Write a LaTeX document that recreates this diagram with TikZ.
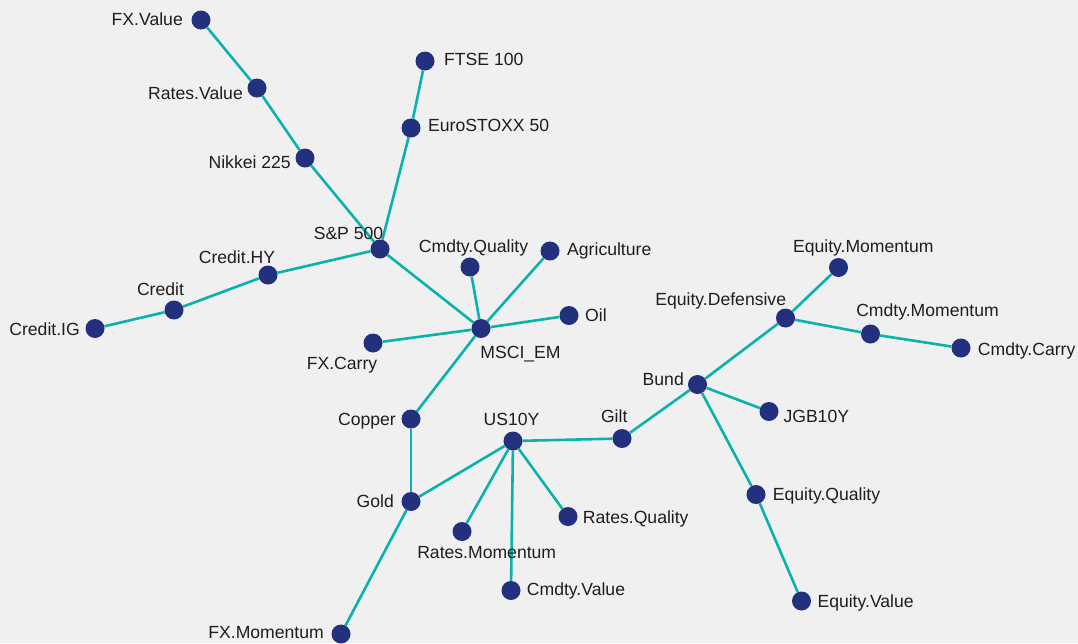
\documentclass[tikz,border=0pt]{standalone}
\usepackage{fontspec}
\setmainfont{Liberation Sans}
\usetikzlibrary{backgrounds}
\definecolor{bgc}{HTML}{F0F0F0}
\definecolor{dotc}{HTML}{22307E}
\definecolor{edgec}{HTML}{0AB2AC}
\definecolor{txtc}{HTML}{1E1E1E}
\tikzset{
  dot/.style={circle, fill=dotc, draw=none, inner sep=0pt, minimum size=19pt},
  lbl/.style={inner sep=0pt, text=txtc, font=\fontsize{17.6}{20}\selectfont},
  edge/.style={draw=edgec, line width=2.6pt}
}
\begin{document}
\begin{tikzpicture}[x=1pt, y=-1pt]
\useasboundingbox (0,0) rectangle (1078,643);
% dots
\node[dot] (fxv) at (201,20) {};
\node[dot] (rv) at (257,88) {};
\node[dot] (nik) at (305,158) {};
\node[dot] (sp) at (380,249) {};
\node[dot] (eu) at (411,128) {};
\node[dot] (ftse) at (425,61) {};
\node[dot] (chy) at (268,275) {};
\node[dot] (cr) at (174,310) {};
\node[dot] (cig) at (95,328.5) {};
\node[dot] (cq) at (470,267) {};
\node[dot] (agr) at (550,251) {};
\node[dot] (oil) at (569,315.5) {};
\node[dot] (msci) at (481,328.5) {};
\node[dot] (fxc) at (373,343) {};
\node[dot] (cop) at (411,419) {};
\node[dot] (gold) at (411,501.5) {};
\node[dot] (fxm) at (341,634) {};
\node[dot] (us) at (513,441) {};
\node[dot] (gilt) at (622,438.5) {};
\node[dot] (rm) at (462,531.5) {};
\node[dot] (rq) at (568,516.5) {};
\node[dot] (cv) at (511,590.5) {};
\node[dot] (bund) at (697.5,384.5) {};
\node[dot] (jgb) at (769,411.5) {};
\node[dot] (eq) at (756,494.5) {};
\node[dot] (ev) at (801.5,601) {};
\node[dot] (ed) at (785.5,318) {};
\node[dot] (em) at (838.5,267.5) {};
\node[dot] (cm) at (870.5,334) {};
\node[dot] (cc) at (961,348) {};
% edges
\begin{pgfonlayer}{background}
\fill[bgc] (0,0) rectangle (1078,643);
\draw[edge] (fxv) -- (rv);
\draw[edge] (rv) -- (nik);
\draw[edge] (nik) -- (sp);
\draw[edge] (sp) -- (eu);
\draw[edge] (eu) -- (ftse);
\draw[edge] (sp) -- (chy);
\draw[edge] (chy) -- (cr);
\draw[edge] (cr) -- (cig);
\draw[edge] (sp) -- (msci);
\draw[edge] (msci) -- (cq);
\draw[edge] (msci) -- (agr);
\draw[edge] (msci) -- (oil);
\draw[edge] (msci) -- (fxc);
\draw[edge] (msci) -- (cop);
\draw[edge] (cop) -- (gold);
\draw[edge] (gold) -- (fxm);
\draw[edge] (gold) -- (us);
\draw[edge] (us) -- (rm);
\draw[edge] (us) -- (cv);
\draw[edge] (us) -- (rq);
\draw[edge] (us) -- (gilt);
\draw[edge] (gilt) -- (bund);
\draw[edge] (bund) -- (ed);
\draw[edge] (bund) -- (jgb);
\draw[edge] (bund) -- (eq);
\draw[edge] (eq) -- (ev);
\draw[edge] (ed) -- (em);
\draw[edge] (ed) -- (cm);
\draw[edge] (cm) -- (cc);
\end{pgfonlayer}
% labels
\node[lbl, anchor=base east] (fxv-l) at (183,25) {FX.Value};
\node[lbl, anchor=base east] (rv-l) at (243,99.5) {Rates.Value};
\node[lbl, anchor=base east] (nik-l) at (291,168) {Nikkei 225};
\node[lbl, anchor=base] (sp-l) at (348.5,239) {S\&P 500};
\node[lbl, anchor=base west] (eu-l) at (428,131.5) {EuroSTOXX 50};
\node[lbl, anchor=base west] (ftse-l) at (444,65) {FTSE 100};
\node[lbl, anchor=base] (chy-l) at (237,263.3) {Credit.HY};
\node[lbl, anchor=base] (cr-l) at (160.5,295) {Credit};
\node[lbl, anchor=base east] (cig-l) at (80,335) {Credit.IG};
\node[lbl, anchor=base] (cq-l) at (473.5,252.3) {Cmdty.Quality};
\node[lbl, anchor=base west] (agr-l) at (567,255.7) {Agriculture};
\node[lbl, anchor=base west] (oil-l) at (585,321) {Oil};
\node[lbl, anchor=base] (msci-l) at (520.5,358.3) {MSCI\_EM};
\node[lbl, anchor=base] (fxc-l) at (342,369.3) {FX.Carry};
\node[lbl, anchor=base east] (cop-l) at (396,425) {Copper};
\node[lbl, anchor=base east] (gold-l) at (394,507.7) {Gold};
\node[lbl, anchor=base east] (fxm-l) at (324,638.3) {FX.Momentum};
\node[lbl, anchor=base] (us-l) at (511.5,425) {US10Y};
\node[lbl, anchor=base] (gilt-l) at (614.2,422.7) {Gilt};
\node[lbl, anchor=base] (rm-l) at (486.7,558.3) {Rates.Momentum};
\node[lbl, anchor=base west] (rq-l) at (582.7,523.3) {Rates.Quality};
\node[lbl, anchor=base west] (cv-l) at (526.7,595) {Cmdty.Value};
\node[lbl, anchor=base east] (bund-l) at (684,385) {Bund};
\node[lbl, anchor=base west] (jgb-l) at (783.3,422.7) {JGB10Y};
\node[lbl, anchor=base west] (eq-l) at (772.7,500) {Equity.Quality};
\node[lbl, anchor=base west] (ev-l) at (817.3,607.3) {Equity.Value};
\node[lbl, anchor=base] (ed-l) at (720.7,305) {Equity.Defensive};
\node[lbl, anchor=base] (em-l) at (863.3,252.3) {Equity.Momentum};
\node[lbl, anchor=base] (cm-l) at (927.5,316) {Cmdty.Momentum};
\node[lbl, anchor=base west] (cc-l) at (977.7,355.7) {Cmdty.Carry};
\end{tikzpicture}
\end{document}
